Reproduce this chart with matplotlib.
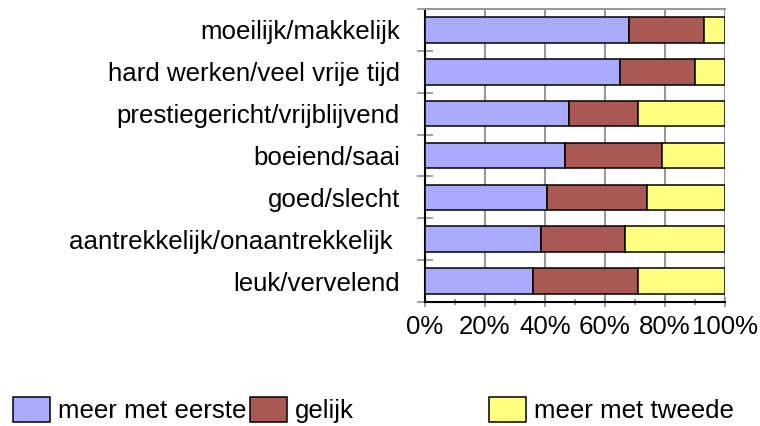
import matplotlib
matplotlib.use("Agg")
import matplotlib.pyplot as plt
from matplotlib.patches import Patch
from matplotlib.ticker import MultipleLocator, FixedLocator, PercentFormatter

plt.rcParams['font.family'] = ['Liberation Sans', 'DejaVu Sans']

# categories, top to bottom
categories = [
    "moeilijk/makkelijk",
    "hard werken/veel vrije tijd",
    "prestiegericht/vrijblijvend",
    "boeiend/saai",
    "goed/slecht",
    "aantrekkelijk/onaantrekkelijk ",
    "leuk/vervelend",
]

# percentages per category
eerste = [68, 65, 48, 46.5, 40.5, 38.5, 36]
gelijk = [25, 25, 23, 32.5, 33.5, 28, 35]
tweede = [7, 10, 29, 21, 26, 33.5, 29]

series_names = ["meer met eerste", "gelijk", "meer met tweede"]
colors = ["#AAAAFF", "#A95854", "#FFFF80"]
fs = 18.6

fig = plt.figure(figsize=(7.6, 4.26), dpi=100)
ax = fig.add_axes([425 / 760, 1 - 302 / 426, 300 / 760, 293 / 426])

y = list(range(len(categories)))
left = [0] * len(categories)
for vals, col in zip([eerste, gelijk, tweede], colors):
    ax.barh(y, vals, left=left, height=0.61, color=col,
            edgecolor="black", linewidth=1.1, zorder=3)
    left = [a + b for a, b in zip(left, vals)]

ax.set_xlim(0, 100)
ax.set_ylim(len(categories) - 0.5, -0.5)

# x axis
ax.xaxis.set_major_locator(MultipleLocator(20))
ax.xaxis.set_minor_locator(MultipleLocator(10))
ax.xaxis.set_major_formatter(PercentFormatter(decimals=0))
ax.tick_params(axis="x", which="major", direction="inout", length=7,
               width=1.1, color="#888888", labelsize=fs, pad=6)
ax.tick_params(axis="x", which="minor", direction="inout", length=4,
               width=1.1, color="#888888")
ax.grid(axis="x", which="major", color="#999999", linewidth=1.5, zorder=0)

# y axis: labels at centres, ticks at category boundaries
ax.set_yticks(y)
ax.set_yticklabels(categories)
ax.yaxis.set_minor_locator(FixedLocator([k - 0.5 for k in range(len(categories) + 1)]))
ax.tick_params(axis="y", which="major", length=0, labelsize=fs, pad=18)
ax.tick_params(axis="y", which="minor", direction="inout", length=11,
               width=1.1, color="#888888")

for s in ["left", "bottom"]:
    ax.spines[s].set_color("black")
    ax.spines[s].set_linewidth(1.5)
ax.spines["top"].set_color("#999999")
ax.spines["top"].set_linewidth(1.5)
ax.spines["right"].set_visible(False)
ax.set_axisbelow(True)

# legend: three equally spaced columns
legend_x = [13, 250, 489]
for name, col, lx in zip(series_names, colors, legend_x):
    fig.legend(handles=[Patch(facecolor=col, edgecolor="black", linewidth=1.1)],
               labels=[name], loc="center left",
               bbox_to_anchor=(lx / 760, 1 - 410 / 426),
               frameon=False, fontsize=fs, borderpad=0, borderaxespad=0,
               handlelength=1.45, handleheight=1.15, handletextpad=0.3)

fig.savefig("out.png", dpi=100)
